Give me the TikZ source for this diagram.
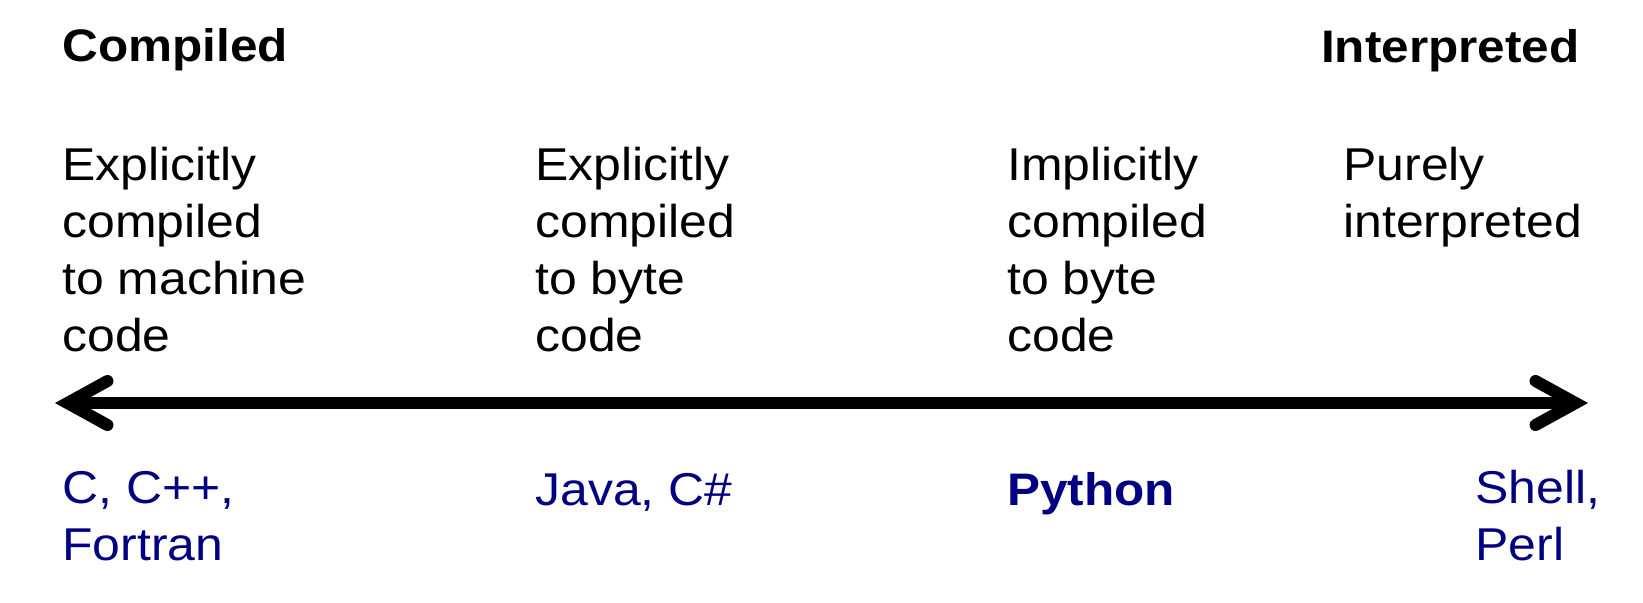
\documentclass[tikz,border=0pt]{standalone}
\usepackage{fontspec}
\setmainfont[FakeStretch=1.085]{Liberation Sans}
\usetikzlibrary{arrows.meta}
\definecolor{langblue}{RGB}{0,0,128}

\begin{document}
\begin{tikzpicture}[x=0.5pt, y=-0.5pt,
  txt/.style={anchor=base west, align=left, inner sep=0pt, font=\fontsize{23}{28.5}\selectfont},
  head/.style={txt, font=\fontsize{22.8}{28.5}\selectfont\bfseries},
  lang/.style={txt, text=langblue},
  >={Straight Barb[length=20pt, width=22pt, line cap=round, line join=miter]}]
\useasboundingbox (0,0) rectangle (1643,602);
\node[head] (comp) at (62,61) {Compiled};
\node[head, anchor=base east] (interp) at (1580,62) {Interpreted};
% base anchor sits on the last line
\foreach \n/\x/\y/\t in {d1/62/351/{Explicitly\\compiled\\to machine\\code}, d2/535/351/{Explicitly\\compiled\\to byte\\code}, d3/1007/351/{Implicitly\\compiled\\to byte\\code}, d4/1343/237/{Purely\\interpreted}} \node[txt] (\n) at (\x,\y) {\t};
\coordinate (lend) at (55,403); \coordinate (rend) at (1588,403);
\draw[<->, line width=6pt] (lend) -- (rend);
\foreach \n/\x/\y/\t in {l1/62/560/{C, C++,\\Fortran}, l2/535/505/{Java, C\#}, l3/1007/505/{\fontsize{22.8}{28.5}\selectfont\bfseries Python}, l4/1475/560/{Shell,\\Perl}} \node[lang] (\n) at (\x,\y) {\t};
\end{tikzpicture}
\end{document}
